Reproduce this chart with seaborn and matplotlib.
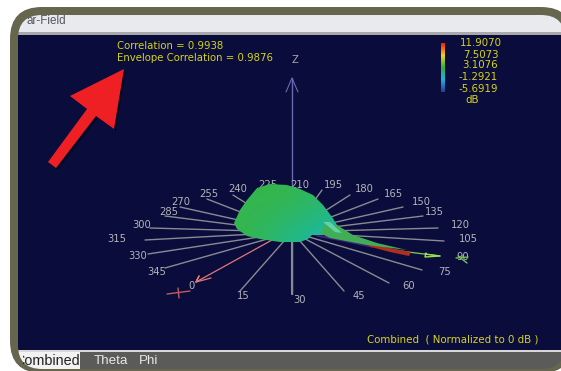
import numpy as np, pandas as pd
import matplotlib
matplotlib.use("Agg")
import matplotlib.pyplot as plt
from matplotlib.patches import FancyBboxPatch, Polygon, Rectangle
from matplotlib.colors import LinearSegmentedColormap
import seaborn as sns

angles = list(range(0, 360, 15))
label_x = [192,243,300,359,409,445,463,468,460,434,421,393,364,333,300,268,238,209,181,169,142,117,138,157]
label_y = [286,296,300,296,286,272,257,239,225,212,202,194,189,185,185,185,189,194,202,212,225,239,256,272]
spoke_x = [None,240,292,344,389,422,None,444,438,423,403,378,350,322,292,262,233,207,180,165,150,145,148,165]
spoke_y = [None,291,294,291,283,270,None,241,228,216,207,199,195,190,190,190,195,199,207,216,228,240,254,268]
center = (292, 232)

legend_labels = ["11.9070","7.5073","3.1076","-1.2921","-5.6919","dB"]
legend_x = [480.5,480.5,480.5,478,478,472]
legend_y = [43.5,54.5,65,77,89,100]

blob_x = [234,240,247,257,270,287,300,313,323,332,337,342,328,312,308,300,280,260,247,237]
blob_y = [223,210,200,188,184,185,189,195,205,217,225,232,235,235,239,242,242,239,236,229]
surface_db = [[2.9,3.0,2.8,2.3,1.6],
              [2.9,2.8,2.3,1.7,1.0],
              [2.9,2.4,1.7,1.0,0.3],
              [2.8,2.0,1.0,0.2,-1.0]]
lobe_green_x = [325,337,353,377,407,367,330,320]
lobe_green_y = [225,225,235,243,250,245,238,233]
lobe_pale_x = [323,330,342,335]
lobe_pale_y = [222,222,233,232]
lobe_red_x = [365,385,411,409,390,371]
lobe_red_y = [243,247,252,256,252,247]
lobe_dark_x = [312,340,372,373,345,318]
lobe_dark_y = [234,238,245,248,242,237]
arrow_x = [124,70,87,48,56,96,114]
arrow_y = [69,96,109,162,168,116,129]

sns.set_theme(style="white", rc={"font.family": "DejaVu Sans"})
fig = plt.figure(figsize=(5.61,3.71), dpi=100, facecolor="white")
ax = fig.add_axes([0,0,1,1])
ax.set_xlim(0,561); ax.set_ylim(371,0); ax.axis("off")

# frame
OUTER = dict(boxstyle="round,pad=0,rounding_size=32", ec="none")
INNER = dict(boxstyle="round,pad=0,rounding_size=24", ec="none")
ax.add_patch(FancyBboxPatch((10,7),563,366,fc="#66664f",zorder=0,**OUTER))
inner = FancyBboxPatch((18,15),547,354,fc="#5b5b59",zorder=0.5,**INNER)
ax.add_patch(inner)
def clipped(p):
    ax.add_patch(p); p.set_clip_path(inner); return p
clipped(Rectangle((0,15),561,17,fc="#e9eaee",ec="none",zorder=1))
clipped(Rectangle((0,32),561,3,fc="#a9a9ab",ec="none",zorder=1))
clipped(Rectangle((0,35),561,315,fc="#0a0c3c",ec="none",zorder=1))
clipped(Rectangle((0,350),561,2,fc="#d8d8d8",ec="none",zorder=1))
clipped(Rectangle((0,352),80,18,fc="#f2f2f2",ec="none",zorder=1))

ax.text(66,20.5,"ar-Field",fontsize=8.4,color="#555560",va="center",ha="right",zorder=3,family="Liberation Sans")
ax.text(79.5,361,"Combined",fontsize=10.4,color="#222222",va="center",ha="right",zorder=3,family="Liberation Sans")
ax.text(94,361,"Theta",fontsize=9.6,color="#e8e8e8",va="center",zorder=3,family="Liberation Sans")
ax.text(139,361,"Phi",fontsize=9.6,color="#e8e8e8",va="center",zorder=3,family="Liberation Sans")

# the window edge hides the start of the tab label
corner = Polygon([[0,352],[23.5,352],[23.5,371],[0,371]],fc="white",ec="none",zorder=3.1)
ax.add_patch(corner)
edge = FancyBboxPatch((10,7),563,366,fc="#66664f",zorder=3.2,**OUTER)
ax.add_patch(edge); edge.set_clip_path(corner)
tab = FancyBboxPatch((18,15),547,354,fc="#f2f2f2",zorder=3.3,**INNER)
ax.add_patch(tab); tab.set_clip_path(corner)

# spokes
rows=[]
for a,x,y in zip(angles,spoke_x,spoke_y):
    if x is None: continue
    rows += [dict(a=a,x=center[0],y=center[1]),dict(a=a,x=x,y=y)]
sns.lineplot(data=pd.DataFrame(rows),x="x",y="y",units="a",estimator=None,sort=False,color="#8a8a92",lw=1.0,ax=ax,zorder=2)
ax.set_xlim(0,561); ax.set_ylim(371,0); ax.axis("off")
for a,x,y in zip(angles,label_x,label_y):
    ax.text(x,y,str(a),color="#b4b4b8",fontsize=7.2,ha="center",va="center",zorder=3)

# z axis
ax.plot([292,292],[78,232],color="#6a6ab0",lw=1,zorder=2)
ax.plot([292,292],[240,294],color="#8a8a92",lw=1.5,zorder=2)
ax.plot([286,292,298],[92,78,92],color="#6a6ab0",lw=0.8,zorder=2)
ax.text(295,60,"Z",color="#a8a8b4",fontsize=7.2,ha="center",va="center",zorder=3)

# x axis
ax.plot([272,196],[240,282],color="#e07878",lw=0.9,zorder=4)
ax.plot([196,199,196,211],[282,276,282,278],color="#e07878",lw=0.9,zorder=4)
ax.plot([167,190],[294,291],color="#c05a60",lw=1,zorder=4)
ax.plot([178,179],[288,298],color="#c05a60",lw=1,zorder=4)
# y axis
ax.plot([400,440],[251,256],color="#80d050",lw=0.9,zorder=4)
ax.plot([425,440,425,426],[254,256,257,253],color="#9adc50",lw=1,zorder=4)
ax.plot([456,468],[258,257],color="#70c050",lw=1,zorder=4)
ax.plot([458,467],[256,263],color="#70c050",lw=1,zorder=4)

# surface
cmap = LinearSegmentedColormap.from_list("hfss",["#2a4aa0","#22b8e0","#20b890","#35b54a","#a8d030","#f0c020","#ee2010"])
poly = Polygon(np.column_stack([blob_x,blob_y]),closed=True,fc="none",ec="none",zorder=5)
ax.add_patch(poly)
im = ax.imshow(surface_db,cmap=cmap,vmin=-5.6919,vmax=11.907,extent=(234,342,242,184),aspect="auto",interpolation="bilinear",zorder=5)
im.set_clip_path(poly)
ax.add_patch(Polygon(np.column_stack([lobe_dark_x,lobe_dark_y]),fc="#402080",ec="none",zorder=4.5))
ax.add_patch(Polygon(np.column_stack([lobe_red_x,lobe_red_y]),fc="#b03020",ec="none",zorder=5.1))
ax.add_patch(Polygon(np.column_stack([lobe_green_x,lobe_green_y]),fc="#3fae55",ec="none",zorder=5.2))
ax.add_patch(Polygon(np.column_stack([lobe_pale_x,lobe_pale_y]),fc="#66d0a8",ec="none",zorder=5.3))
ax.set_xlim(0,561); ax.set_ylim(371,0)

# colour bar
dbscale = np.linspace(11.907,-5.6919,64).reshape(-1,1)
ax.imshow(dbscale,cmap=LinearSegmentedColormap.from_list("cb",["#27408b","#20b0e8","#30b040","#f0d020","#ee2010"]),extent=(441,445,92,43),aspect="auto",zorder=3)
ax.set_xlim(0,561); ax.set_ylim(371,0)
Y="#d8d418"
for s,x,y in zip(legend_labels,legend_x,legend_y):
    ax.text(x,y,s,color=Y,fontsize=7.4,ha="center",va="center",zorder=3)
ax.text(117,46,"Correlation = 0.9938",color=Y,fontsize=7.3,va="center",zorder=3)
ax.text(117,58,"Envelope Correlation = 0.9876",color=Y,fontsize=7.3,va="center",zorder=3)
ax.text(367,340,"Combined  ( Normalized to 0 dB )",color=Y,fontsize=7.4,va="center",zorder=3)

# red arrow
pts = np.column_stack([arrow_x,arrow_y])
ax.add_patch(Polygon(pts+[2,2],fc="#060828",ec="none",zorder=6))
ax.add_patch(Polygon(pts,fc="#ee2024",ec="none",zorder=7))
fig.savefig("out.png",dpi=100,facecolor="white")
